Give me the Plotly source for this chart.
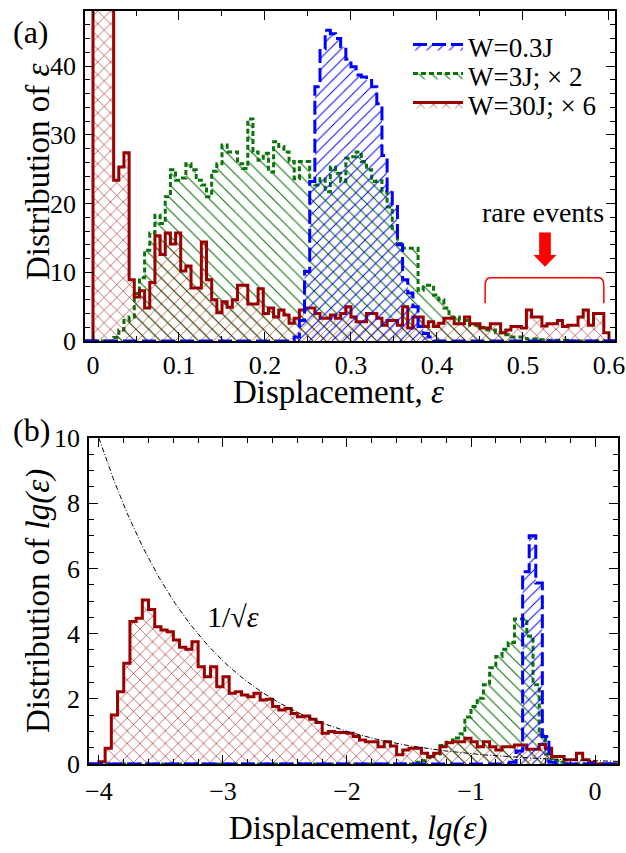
import numpy as np
import plotly.graph_objects as go

# ---------------- data: panel (a), histograms of displacement (bin width 0.006) ----
bin_w_a = 0.006
red_a = [100, 100, 100, 100, 23.4, 25.3, 27.4, 8.9, 6.4, 7.3,
         4.8, 8.5, 15.3, 12.6, 15.7, 14.1, 15.7, 10.2, 10.9, 7.7,
         7.7, 14.4, 8.9, 6.0, 4.1, 5.7, 4.9, 6.0, 8.1, 8.1,
         5.4, 5.4, 7.6, 4.0, 4.8, 3.5, 4.5, 3.8, 2.6, 3.3,
         4.5, 4.8, 4.8, 4.0, 3.3, 3.3, 3.8, 3.3, 4.0, 5.0,
         3.5, 2.8, 2.8, 4.0, 4.0, 3.3, 2.3, 3.0, 3.0, 2.3,
         5.0, 1.9, 3.5, 3.5, 2.1, 2.8, 2.1, 2.6, 3.3, 3.3,
         2.5, 2.5, 3.5, 2.5, 2.5, 1.9, 1.9, 2.5, 2.5, 1.2,
         1.6, 2.1, 2.1, 1.9, 4.5, 3.5, 3.5, 2.2, 2.5, 2.5,
         3.0, 2.1, 2.3, 2.3, 3.5, 4.5, 2.3, 4.0, 4.0, 1.2]
green_a = [0, 0, 0, 0, 0.5, 1.6, 3.0, 3.5, 6.9, 9.2,
           13.2, 15.7, 18.3, 17.1, 21.0, 24.9, 23.4, 23.7, 25.8, 24.9,
           23.4, 22.7, 21.0, 24.7, 25.8, 28.5, 27.5, 27.5, 25.8, 25.1,
           32.3, 27.5, 26.3, 27.3, 24.6, 29.0, 28.3, 27.5, 26.1, 23.6,
           26.1, 26.1, 23.2, 22.7, 23.6, 21.7, 25.3, 24.4, 23.2, 26.6,
           26.8, 27.5, 26.1, 24.9, 23.2, 23.3, 21.7, 19.5, 16.4, 14.2,
           13.5, 13.5, 13.5, 7.4, 8.1, 8.1, 6.7, 6.0, 4.8, 3.5,
           3.5, 3.0, 3.0, 2.3, 2.3, 2.0, 1.6, 1.6, 1.2, 1.2,
           0.9, 0.6, 0.6, 0.6, 0.3, 0.3, 0.2, 0.2, 0.1, 0.1,
           0.1, 0.1, 0, 0, 0, 0, 0, 0, 0, 0]
blue_a_first_bin = 39
blue_a = [0.6, 3.0, 10.1, 23.2, 37.0, 42.5, 45.2, 44.7, 44.0, 42.8,
          41.0, 39.9, 38.7, 38.4, 37.9, 37.0, 34.5, 27.0, 21.9, 19.8,
          14.0, 8.9, 7.0, 5.0, 2.1, 1.1, 0.6]

# ---------------- data: panel (b), histograms of lg(displacement) ----------------
red_b_start, red_b_w = -4.0, 0.05
red_b = [0.07, 0.48, 1.5, 2.22, 3.09, 4.37, 4.47, 5.03, 4.74, 4.21,
         4.11, 4.06, 3.80, 3.58, 3.52, 3.75, 2.98, 2.68, 2.98, 2.37,
         2.68, 2.17, 2.22, 2.12, 2.06, 2.17, 1.96, 1.99, 1.76, 1.66,
         1.70, 1.55, 1.45, 1.47, 1.37, 1.27, 0.94, 1.00, 0.97, 0.97,
         0.94, 0.84, 0.74, 0.68, 0.68, 0.53, 0.68, 0.55, 0.28, 0.43,
         0.48, 0.48, 0.33, 0.23, 0.33, 0.53, 0.65, 0.68, 0.68, 0.79,
         0.68, 0.53, 0.68, 0.53, 0.43, 0.53, 0.53, 0.58, 0.58, 0.45,
         0.45, 0.60, 0.48, 0.23, 0.23, 0.13, 0.13, 0.33, 0.13, 0.05]
green_b_start, green_b_w = -1.45, 0.05
green_b = [0.05, 0.1, 0.2, 0.31, 0.57, 0.67, 0.8, 0.93, 1.44, 1.76,
           2.02, 2.43, 2.95, 3.3, 3.52, 3.73, 4.45, 4.45, 3.93, 2.43,
           0.88, 0.31, 0.1, 0.05]
blue_b_start, blue_b_w = -0.69, 0.053
blue_b = [0.05, 0.4, 5.9, 7.0, 5.55, 0.84, 0.05]

names = ["W=0.3J", "W=3J; × 2", "W=30J; × 6"]

# ---------------- styling ----------------
FONT = "Liberation Serif"
BLUE, GREEN, RED = "#0000FF", "#0A730A", "#990000"
XR_A, YR_A = [-0.0093, 0.607], [0, 48]
XR_B, YR_B = [-4.08, 0.185], [0, 10]
W, H = 626, 853


def step_xy(start, width, vals, xr):
    edges = [start + i * width for i in range(len(vals) + 1)]
    xs, ys = [xr[0], edges[0]], [0, 0]
    for e, v in zip(edges[:-1], vals):
        xs.append(e)
        ys.append(v)
    xs += [edges[-1], xr[1]]
    ys += [0, 0]
    return xs, ys


def hist_trace(xs, ys, color, dash, shape, size, name, xa, ya, legend):
    return go.Scatter(
        x=xs, y=ys, mode="lines", line=dict(color=color, width=3, dash=dash, shape="hv"),
        fill="tozeroy", fillcolor="rgba(0,0,0,0)",
        fillpattern=dict(shape=shape, fgcolor=color, bgcolor="rgba(0,0,0,0)",
                         size=size, solidity=0.12, fillmode="replace"),
        name=name, xaxis=xa, yaxis=ya, showlegend=legend is not None,
        legend=legend or "legend", hoverinfo="skip")


fig = go.Figure()

# panel (a)
gx, gy = step_xy(0.0, bin_w_a, green_a, XR_A)
rx, ry = step_xy(0.0, bin_w_a, red_a, XR_A)
bx, by = step_xy(blue_a_first_bin * bin_w_a, bin_w_a, blue_a, XR_A)
fig.add_trace(hist_trace(gx, gy, GREEN, "5px,3px", "\\", 9, names[1], "x", "y", "legend2"))
fig.add_trace(hist_trace(rx, ry, RED, "solid", "x", 9, names[2], "x", "y", "legend3"))
fig.add_trace(hist_trace(bx, by, BLUE, "14px,5px", "/", 8, names[0], "x", "y", "legend"))

# panel (b)
gx, gy = step_xy(green_b_start, green_b_w, green_b, XR_B)
rx, ry = step_xy(red_b_start, red_b_w, red_b, XR_B)
bx, by = step_xy(blue_b_start, blue_b_w, blue_b, XR_B)
fig.add_trace(hist_trace(gx, gy, GREEN, "5px,3px", "\\", 9, names[1], "x2", "y2", None))
fig.add_trace(hist_trace(rx, ry, RED, "solid", "x", 9, names[2], "x2", "y2", None))
fig.add_trace(hist_trace(bx, by, BLUE, "14px,5px", "/", 8, names[0], "x2", "y2", None))

# 1/sqrt(eps) guide curve in lg scale
lx = np.linspace(-4.0, XR_B[1], 300)
fig.add_trace(go.Scatter(x=lx, y=0.1 * 10 ** (-lx / 2), mode="lines",
                         line=dict(color="black", width=1, dash="5px,2px,1px,2px"),
                         xaxis="x2", yaxis="y2", showlegend=False, hoverinfo="skip"))

axis_common = dict(showline=True, linecolor="black", linewidth=1.5, mirror="allticks",
                   ticks="inside", ticklen=9, tickwidth=1.2, tickcolor="black",
                   showgrid=False, zeroline=False, automargin=False,
                   tickfont=dict(family=FONT, size=26, color="black"))
minor_common = dict(ticks="inside", ticklen=5, tickwidth=1, tickcolor="black", showgrid=False)
title_font = dict(family=FONT, size=33, color="black")

legend_common = dict(x=408 / W, xanchor="left", yanchor="middle", bgcolor="rgba(0,0,0,0)",
                     font=dict(family=FONT, size=27, color="black"), itemwidth=50)

fig.update_layout(
    template="none",
    width=W, height=H, margin=dict(l=0, r=0, t=0, b=0),
    paper_bgcolor="white", plot_bgcolor="white",
    font=dict(family=FONT, color="black"),
    xaxis=dict(**axis_common, domain=[85 / W, 615 / W], range=XR_A, anchor="y",
               tickmode="linear", tick0=0, dtick=0.1, minor=dict(**minor_common, dtick=0.05),
               ticklabelstandoff=0),
    yaxis=dict(**axis_common, domain=[1 - 341 / H, 1 - 11 / H], range=YR_A, anchor="x",
               tickmode="linear", tick0=0, dtick=10, minor=dict(**minor_common, dtick=2),
               ticklabelstandoff=2),
    xaxis2=dict(**axis_common, domain=[89 / W, 618 / W], range=XR_B, anchor="y2",
                tickmode="linear", tick0=0, dtick=1, minor=dict(**minor_common, dtick=0.2),
                ticklabelstandoff=3),
    yaxis2=dict(**axis_common, domain=[1 - 764 / H, 1 - 438 / H], range=YR_B, anchor="x2",
                tickmode="linear", tick0=0, dtick=2, minor=dict(**minor_common, dtick=0.5),
                ticklabelstandoff=2),
    legend=dict(**legend_common, y=1 - 47 / H),
    legend2=dict(**legend_common, y=1 - 76 / H),
    legend3=dict(**legend_common, y=1 - 105 / H),
)

centered = dict(xref="paper", yref="paper", showarrow=False, xanchor="center", yanchor="middle")

# axis titles (placed as annotations so they sit exactly where the original has them)
fig.add_annotation(text="Displacement, <i>ε</i>", x=338 / W, y=1 - 392 / H, font=title_font, **centered)
fig.add_annotation(text="Distribution of <i>ε</i>", x=38 / W, y=1 - 172 / H, font=title_font,
                   textangle=-90, **centered)
fig.add_annotation(text="Displacement, <i>lg(ε)</i>", x=358 / W, y=1 - 828 / H, font=title_font, **centered)
fig.add_annotation(text="Distribution of <i>lg(ε)</i>", x=38 / W, y=1 - 601 / H, font=title_font,
                   textangle=-90, **centered)

# panel labels and notes
fig.add_annotation(text="(a)", x=31 / W, y=1 - 32 / H, font=dict(family=FONT, size=32), **centered)
fig.add_annotation(text="(b)", x=31 / W, y=1 - 430 / H, font=dict(family=FONT, size=32), **centered)
fig.add_annotation(text="rare events", x=0.523, y=18.7, xref="x", yref="y",
                   showarrow=False, font=dict(family=FONT, size=28))
fig.add_annotation(text="1/√<i>ε</i>", x=-2.92, y=4.54, xref="x2", yref="y2",
                   showarrow=False, font=dict(family=FONT, size=30))

# bracket and arrow for rare events
bx0, bx1, by_top, by_end, r = 0.456, 0.594, 9.2, 5.5, 0.006
fig.add_shape(type="path", xref="x", yref="y", line=dict(color="red", width=1.5),
              path=f"M {bx0},{by_end} L {bx0},{by_top - 1.2} Q {bx0},{by_top} {bx0 + r},{by_top} "
                   f"L {bx1 - r},{by_top} Q {bx1},{by_top} {bx1},{by_top - 1.2} L {bx1},{by_end}")
ax_c, sh_w, hd_w = 0.5256, 0.0068, 0.0134
y_tail, y_neck, y_tip = 15.8, 12.5, 10.8
fig.add_shape(type="path", xref="x", yref="y", line=dict(color="red", width=0), fillcolor="red",
              path=f"M {ax_c - sh_w},{y_tail} L {ax_c + sh_w},{y_tail} L {ax_c + sh_w},{y_neck} "
                   f"L {ax_c + hd_w},{y_neck} L {ax_c},{y_tip} L {ax_c - hd_w},{y_neck} "
                   f"L {ax_c - sh_w},{y_neck} Z")

fig.write_html("out.html", config={"displayModeBar": False},
               post_script="document.body.style.margin='0px';")
